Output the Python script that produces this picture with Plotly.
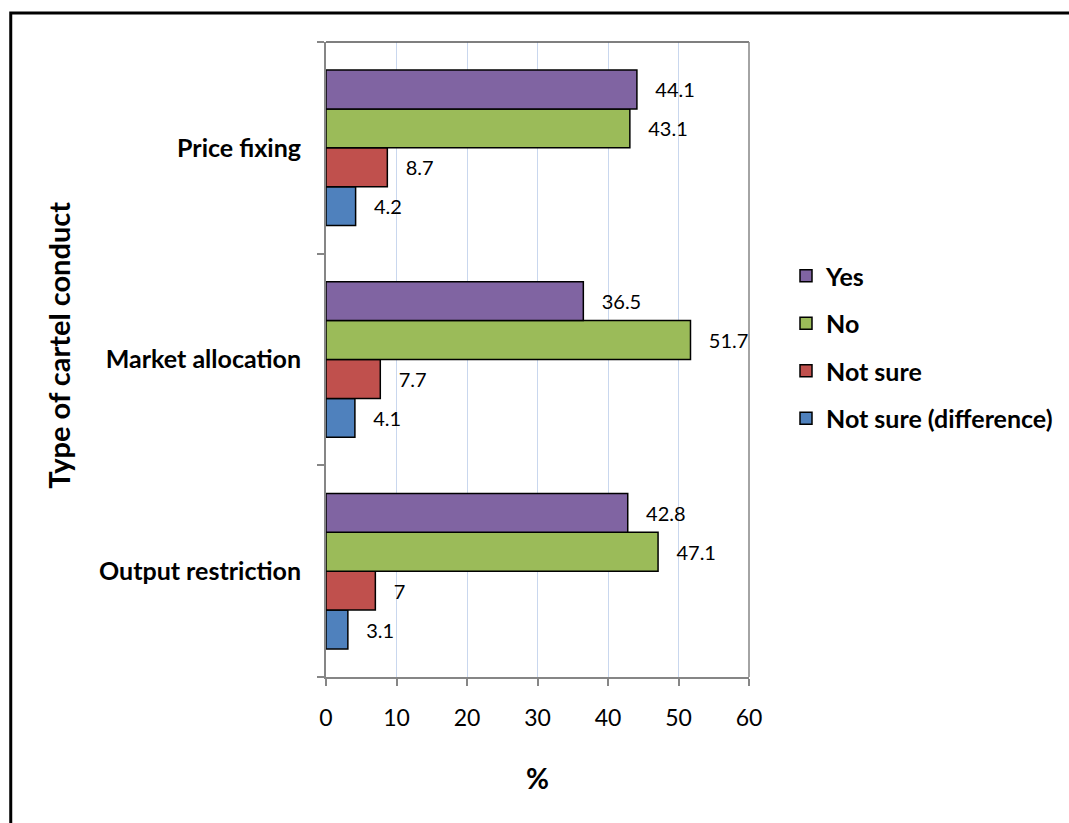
import plotly.graph_objects as go

categories = ["Output restriction", "Market allocation", "Price fixing"]
series_names = ["Not sure (difference)", "Not sure", "No", "Yes"]
values_yes = [42.8, 36.5, 44.1]
values_no = [47.1, 51.7, 43.1]
values_notsure = [7, 7.7, 8.7]
values_diff = [3.1, 4.1, 4.2]
x_ticks = [0, 10, 20, 30, 40, 50, 60]

series_values = [values_diff, values_notsure, values_no, values_yes]
colors = ["#4F81BD", "#C0504D", "#9BBB59", "#8064A2"]
legend_ranks = [4, 3, 2, 1]

FONT = "Lato, Calibri, Carlito, sans-serif"

fig = go.Figure()
for name, vals, col, rank in zip(series_names, series_values, colors, legend_ranks):
    fig.add_trace(go.Bar(
        y=categories, x=vals, name=name, orientation="h",
        marker=dict(color=col, line=dict(color="black", width=1.5)),
        text=["   " + f"{v:g}" for v in vals],
        textposition="outside", cliponaxis=False, constraintext="none",
        textfont=dict(family=FONT, size=20, color="black"),
        legendgroup=name, legendrank=rank,
    ))

L, R, T, B = 326, 319, 42, 146
W, H = 1069, 823
pw, ph = W - L - R, H - T - B

def px_x(p):
    return (p - L) / pw

def px_y(p):
    return (H - B - p) / ph

fig.update_layout(
    width=W, height=H,
    margin=dict(l=L, r=R, t=T, b=B, pad=0),
    paper_bgcolor="white", plot_bgcolor="white",
    barmode="group", bargap=0.265, bargroupgap=0,
    font=dict(family=FONT, color="black"),
    showlegend=True,
    legend=dict(
        x=px_x(786), y=px_y(253), xanchor="left", yanchor="top",
        traceorder="grouped", tracegroupgap=12,
        font=dict(family=FONT, size=25, color="black", weight="bold"),
        itemwidth=30, bgcolor="rgba(0,0,0,0)",
    ),
    xaxis=dict(
        range=[0, 60], tickvals=x_ticks, ticktext=[str(t) for t in x_ticks],
        showgrid=True, gridcolor="#C9D7EE", gridwidth=1,
        showline=True, linecolor="#868686", linewidth=2,
        ticks="outside", ticklen=7, tickcolor="#868686", tickwidth=2,
        tickfont=dict(family=FONT, size=23, color="black"),
        zeroline=False, ticklabelstandoff=12,
    ),
    yaxis=dict(
        categoryorder="array", categoryarray=categories,
        showline=True, linecolor="#868686", linewidth=2,
        ticks="outside", ticklen=7, tickcolor="#868686", tickwidth=2,
        tickson="boundaries",
        tickfont=dict(family=FONT, size=25, color="black", weight="bold"),
        ticklabelstandoff=18,
        showgrid=False,
    ),
    shapes=[
        dict(type="rect", xref="paper", yref="paper",
             x0=px_x(10), x1=px_x(1080), y0=px_y(835), y1=px_y(13),
             line=dict(color="black", width=3), fillcolor="rgba(0,0,0,0)",
             layer="below"),
        dict(type="line", xref="paper", yref="paper",
             x0=0, x1=1, y0=1, y1=1, line=dict(color="#555555", width=1.5)),
        dict(type="line", xref="paper", yref="paper",
             x0=1, x1=1, y0=0, y1=1, line=dict(color="#868686", width=1.5)),
    ],
    annotations=[
        dict(text="Type of cartel conduct", xref="paper", yref="paper",
             x=px_x(58), y=px_y(345), textangle=-90, showarrow=False,
             xanchor="center", yanchor="middle",
             font=dict(family=FONT, size=29, color="black", weight="bold")),
        dict(text="%", xref="paper", yref="paper",
             x=px_x(538), y=px_y(778), showarrow=False,
             xanchor="center", yanchor="middle",
             font=dict(family=FONT, size=28, color="black", weight="bold")),
    ],
)

fig.write_html("out.html")
